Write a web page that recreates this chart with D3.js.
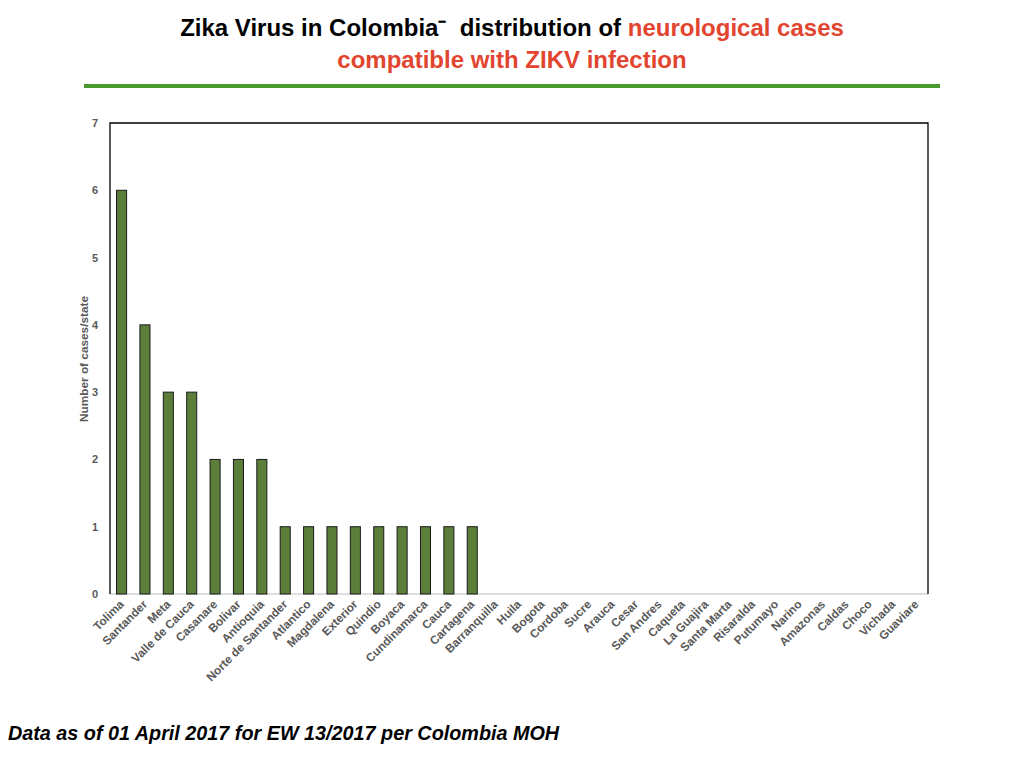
<!DOCTYPE html>
<html><head><meta charset="utf-8">
<script src="https://cdn.jsdelivr.net/npm/d3@7/dist/d3.min.js"></script>
<style>body{margin:0;background:#fff;}svg{display:block;font-family:"Liberation Sans",Arial,sans-serif;}</style>
</head><body>
<svg id="c" width="1024" height="768"></svg>
<script>
const categories = ["Tolima","Santander","Meta","Valle de Cauca","Casanare","Bolivar","Antioquia","Norte de Santander","Atlantico","Magdalena","Exterior","Quindio","Boyaca","Cundinamarca","Cauca","Cartagena","Barranquilla","Huila","Bogota","Cordoba","Sucre","Arauca","Cesar","San Andres","Caqueta","La Guajira","Santa Marta","Risaralda","Putumayo","Narino","Amazonas","Caldas","Choco","Vichada","Guaviare"];
const cases = [6,4,3,3,2,2,2,1,1,1,1,1,1,1,1,1,0,0,0,0,0,0,0,0,0,0,0,0,0,0,0,0,0,0,0];
const yTicks = [0,1,2,3,4,5,6,7];

const svg = d3.select("#c");
const L=110,R=928,T=123,B=594;
const x = d3.scaleBand().domain(categories).range([L,R]).paddingInner(0.57).paddingOuter(0.28);
const y = d3.scaleLinear().domain([0,7]).range([B,T]);

// Title
const t = svg.append("text").attr("text-anchor","middle").attr("font-size",24).attr("font-weight","bold");
t.append("tspan").attr("x",512).attr("y",36).attr("fill","#000").text("Zika Virus in Colombia\u207B\u00A0 distribution of ");
t.append("tspan").attr("fill","#e2452f").text("neurological cases");
svg.append("text").attr("x",512).attr("y",68).attr("text-anchor","middle").attr("font-size",24).attr("font-weight","bold").attr("fill","#e2452f").text("compatible with ZIKV infection");
svg.append("rect").attr("x",84).attr("y",84).attr("width",856).attr("height",4).attr("fill","#4b9a30");

// frame
svg.append("line").attr("x1",L).attr("x2",R).attr("y1",B).attr("y2",B).attr("stroke","#bfbfbf").attr("stroke-width",1);
svg.append("path").attr("d",`M${L},${B}V${T}H${R}V${B}`).attr("fill","none").attr("stroke","#000").attr("stroke-width",1.3);

// bars
svg.append("g").selectAll("rect").data(categories).join("rect")
  .attr("x",d=>x(d)).attr("width",x.bandwidth())
  .attr("y",(d,i)=>y(cases[i])).attr("height",(d,i)=>y(0)-y(cases[i]))
  .attr("fill","#5b7f3b").attr("stroke","#1a1a1a").attr("stroke-width",1)
  .style("display",(d,i)=>cases[i]>0?null:"none");

// y axis labels
const ya = svg.append("g").attr("transform",`translate(${L},0)`).call(d3.axisLeft(y).tickValues(yTicks).tickSize(0).tickPadding(12).tickFormat(d3.format("d")));
ya.select(".domain").remove();
ya.selectAll("text").attr("font-size",11).attr("font-weight","bold").attr("fill","#595959").attr("font-family","Liberation Sans, Arial, sans-serif");

// x axis labels
const xa = svg.append("g").attr("transform",`translate(0,${B})`).call(d3.axisBottom(x).tickSize(0).tickPadding(0));
xa.select(".domain").remove();
xa.selectAll("text").attr("font-size",11.8).attr("font-weight","bold").attr("fill","#595959")
  .attr("font-family","Liberation Sans, Arial, sans-serif")
  .attr("text-anchor","end").attr("dy",0)
  .attr("transform","translate(3,11) rotate(-45)");

// y title
svg.append("text").attr("transform","translate(88,359) rotate(-90)").attr("text-anchor","middle")
  .attr("font-size",11.8).attr("font-weight","bold").attr("fill","#595959").text("Number of cases/state");

// footer
svg.append("text").attr("x",8).attr("y",740).attr("font-size",19.8).attr("font-weight","bold").attr("font-style","italic").attr("fill","#000").text("Data as of 01 April 2017 for EW 13/2017 per Colombia MOH");
</script>
</body></html>
